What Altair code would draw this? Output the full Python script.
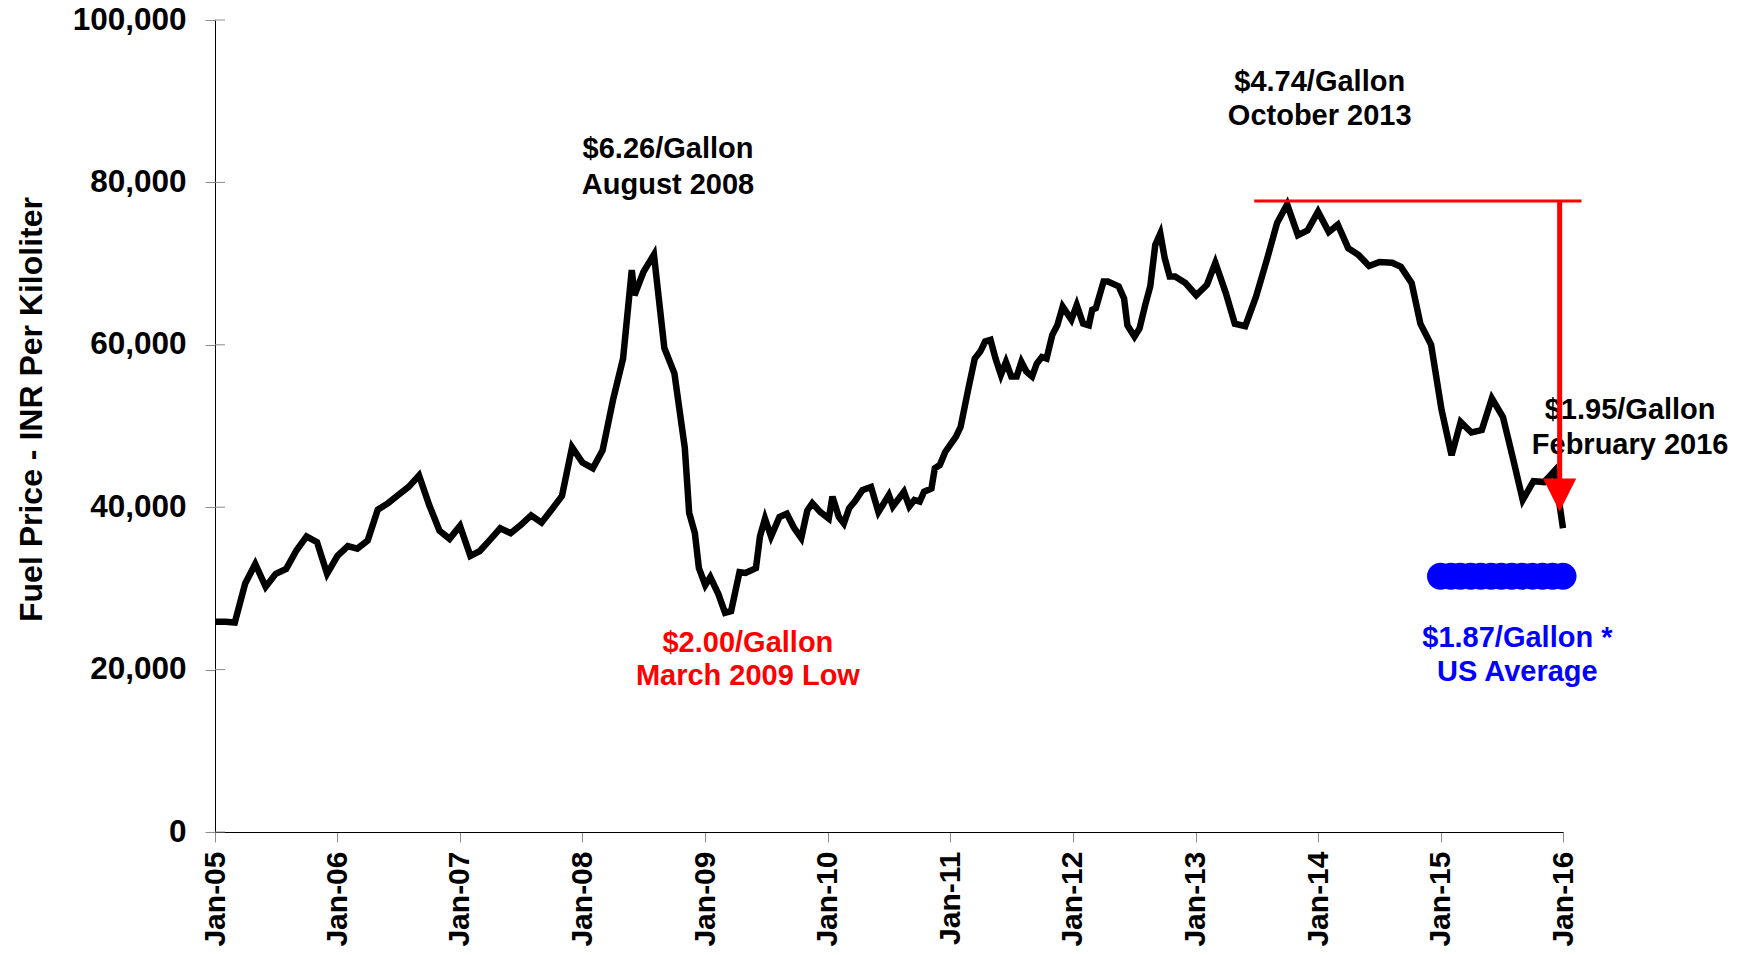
import altair as alt
import pandas as pd

# ---- main series: fuel price (INR per kiloliter) ----
dates = [
    "2005-01-01", "2005-02-01", "2005-03-01", "2005-04-01", "2005-05-01", "2005-06-01",
    "2005-07-01", "2005-08-01", "2005-09-01", "2005-10-01", "2005-11-01", "2005-12-01",
    "2006-01-01", "2006-02-01", "2006-03-01", "2006-04-01", "2006-05-01", "2006-06-01",
    "2006-07-01", "2006-08-01", "2006-09-01", "2006-10-01", "2006-11-01", "2006-12-01",
    "2007-01-01", "2007-02-01", "2007-03-01", "2007-04-01", "2007-05-01", "2007-06-01",
    "2007-07-01", "2007-08-01", "2007-09-01", "2007-10-01", "2007-11-01", "2007-12-01",
    "2008-01-01", "2008-02-01", "2008-03-01", "2008-04-01", "2008-05-01", "2008-05-27",
    "2008-06-04", "2008-07-01", "2008-08-01", "2008-09-01", "2008-10-01", "2008-11-01",
    "2008-11-14", "2008-12-01", "2008-12-13", "2009-01-01", "2009-01-16", "2009-02-09",
    "2009-03-01", "2009-03-19", "2009-04-13", "2009-05-01", "2009-06-01", "2009-06-13",
    "2009-06-28", "2009-07-16", "2009-08-10", "2009-09-01", "2009-09-22", "2009-10-14",
    "2009-11-01", "2009-11-16", "2009-12-10", "2010-01-04", "2010-01-15", "2010-02-03",
    "2010-02-18", "2010-03-06", "2010-03-24", "2010-04-14", "2010-05-10", "2010-06-01",
    "2010-07-02", "2010-07-14", "2010-08-16", "2010-09-01", "2010-09-16", "2010-10-02",
    "2010-10-15", "2010-11-06", "2010-11-16", "2010-12-01", "2010-12-17", "2011-01-18",
    "2011-02-01", "2011-02-24", "2011-03-15", "2011-04-01", "2011-04-15", "2011-05-01",
    "2011-05-16", "2011-06-01", "2011-06-16", "2011-07-02", "2011-07-18", "2011-08-01",
    "2011-08-16", "2011-09-02", "2011-09-16", "2011-10-01", "2011-10-15", "2011-11-01",
    "2011-11-16", "2011-12-02", "2011-12-28", "2012-01-13", "2012-02-01", "2012-02-18",
    "2012-02-28", "2012-03-10", "2012-04-02", "2012-04-15", "2012-05-17", "2012-06-02",
    "2012-06-12", "2012-07-03", "2012-07-18", "2012-08-04", "2012-08-19", "2012-09-03",
    "2012-09-18", "2012-10-01", "2012-10-16", "2012-11-01", "2012-12-02", "2013-01-03",
    "2013-02-04", "2013-03-01", "2013-04-01", "2013-04-28", "2013-05-29", "2013-06-30",
    "2013-08-01", "2013-09-01", "2013-10-01", "2013-11-02", "2013-12-01", "2014-01-01",
    "2014-02-02", "2014-03-01", "2014-04-01", "2014-05-01", "2014-06-02", "2014-07-03",
    "2014-08-10", "2014-09-05", "2014-10-07", "2014-11-02", "2014-12-04", "2015-01-04",
    "2015-02-03", "2015-03-02", "2015-04-03", "2015-05-04", "2015-06-03", "2015-07-06",
    "2015-08-05", "2015-09-03", "2015-10-05", "2015-11-06", "2015-12-07", "2016-01-01",
]
prices = [
    25900, 25900, 25800, 30600, 33000, 30200,
    31800, 32400, 34700, 36400, 35700, 31800,
    34000, 35200, 34900, 35900, 39700, 40500,
    41500, 42500, 43900, 40300, 37100, 36100,
    37700, 34000, 34600, 36000, 37400, 36800,
    37800, 39000, 38100, 39700, 41400, 47400,
    45500, 44800, 47000, 53200, 58300, 69200,
    66100, 69000, 71100, 59600, 56500, 47300,
    39300, 36800, 32500, 30400, 31400, 29300,
    27000, 27200, 32000, 31900, 32500, 36400,
    38600, 36400, 38800, 39200, 37500, 36200,
    39600, 40500, 39400, 38600, 41300, 38800,
    38000, 39900, 40800, 42100, 42500, 39400,
    41500, 40100, 41900, 40100, 40900, 40700,
    41900, 42300, 44800, 45200, 46800, 48700,
    49900, 54600, 58300, 59200, 60400, 60600,
    58300, 56300, 57900, 56100, 56100, 57900,
    56700, 56100, 57700, 58500, 58300, 61200,
    62400, 64700, 63100, 64900, 62600, 62400,
    64300, 64500, 67800, 67800, 67200, 65700,
    62400, 61000, 62000, 64900, 67200, 72300,
    73700, 70700, 68400, 68400, 67600, 66100,
    67400, 70100, 66400, 62600, 62300, 65900,
    70400, 75000, 77300, 73500, 74100, 76400,
    73900, 74800, 71900, 71100, 69700, 70200,
    70100, 69600, 67600, 62600, 60000, 52000,
    46400, 50500, 49200, 49500, 53400, 51100,
    46000, 40900, 43200, 43100, 44500, 37400,
]

# ---- US average marker (blue) ----
us_avg_dates = [
    "2015-01-01", "2015-02-01", "2015-03-01", "2015-04-01", "2015-05-01", "2015-06-01",
    "2015-07-01", "2015-08-01", "2015-09-01", "2015-10-01", "2015-11-01", "2015-12-01",
    "2016-01-01",
]
us_avg_value = 31500

# ---- red reference line and arrow ----
peak_line_start = "2013-06-25"
peak_line_end = "2016-02-25"
peak_level = 77700
arrow_date = "2015-12-22"
arrow_shaft_bottom = 43400
arrow_head_center = 41500

# ---- annotations ----
ann_dates = ["2008-09-12", "2008-09-12", "2014-01-06", "2014-01-06",
             "2009-05-08", "2009-05-08", "2016-07-19", "2016-07-19",
             "2015-08-18", "2015-08-18"]
ann_values = [83000, 78560, 91250, 87010, 22200, 18050, 50850, 46600, 22800, 18540]
ann_texts = ["$6.26/Gallon", "August 2008", "$4.74/Gallon", "October 2013",
             "$2.00/Gallon", "March 2009 Low", "$1.95/Gallon", "February 2016",
             "$1.87/Gallon *", "US Average"]
ann_colors = ["#000000", "#000000", "#000000", "#000000",
              "#FF0000", "#FF0000", "#000000", "#000000",
              "#0000FF", "#0000FF"]

y_ticks = [0, 20000, 40000, 60000, 80000, 100000]
year_ticks = [alt.DateTime(year=y, month=1, date=1, utc=True) for y in range(2005, 2017)]

FONT = "Liberation Sans, Arial, sans-serif"

x_scale = alt.Scale(type="utc", domain=[alt.DateTime(year=2005, month=1, date=1, utc=True),
                                        alt.DateTime(year=2016, month=1, date=1, utc=True)], nice=False)
y_scale = alt.Scale(domain=[0, 100000], nice=False, zero=True)

x_axis = alt.Axis(values=year_ticks, labelExpr="utcFormat(datum.value, '%b-%y')", labelAngle=270,
                  labelFont=FONT, labelFontSize=30, labelFontWeight="bold", labelColor="#000000",
                  labelPadding=9, tickSize=10, tickColor="#8c8c8c", tickWidth=1,
                  domainColor="#000000", domainWidth=1, grid=False, title=None, labelOverlap=False)
y_axis = alt.Axis(values=y_ticks, format=",d", labelFont=FONT, labelFontSize=31.5,
                  labelFontWeight="bold", labelColor="#000000", labelPadding=19,
                  tickSize=10, tickColor="#8c8c8c", tickWidth=1, domainColor="#000000",
                  domainWidth=1, grid=False, title="Fuel Price - INR  Per Kiloliter",
                  titleFont=FONT, titleFontSize=32, titleFontWeight="bold", titleColor="#000000",
                  titleAngle=270, titleAlign="center", titleBaseline="alphabetic",
                  titleX=-174, titleY=389)

def X(field="date"):
    return alt.X(f"{field}:T", scale=x_scale, axis=x_axis)

def Y(field="value"):
    return alt.Y(f"{field}:Q", scale=y_scale, axis=y_axis)

main_df = pd.DataFrame({"date": dates, "value": prices})
line = alt.Chart(main_df).mark_line(color="#000000", strokeWidth=6.5, strokeJoin="miter").encode(
    x=X(), y=Y())

tick_df = pd.DataFrame({"value": y_ticks})
inner_ticks = alt.Chart(tick_df).mark_rule(color="#8c8c8c", strokeWidth=1).encode(
    y=Y(), x=alt.value(0), x2=alt.value(10))

ann_df = pd.DataFrame({"date": ann_dates, "value": ann_values, "text": ann_texts, "color": ann_colors})
texts = alt.Chart(ann_df).mark_text(font=FONT, fontSize=29, fontWeight="bold",
                                    align="center", baseline="alphabetic").encode(
    x=X(), y=Y(), text="text:N", color=alt.Color("color:N", scale=None))

hline_df = pd.DataFrame({"date": [peak_line_start], "date2": [peak_line_end], "value": [peak_level]})
hline = alt.Chart(hline_df).mark_rule(color="#FF0000", strokeWidth=3).encode(
    x=X(), x2="date2:T", y=Y())

shaft_df = pd.DataFrame({"date": [arrow_date], "value": [peak_level], "value2": [arrow_shaft_bottom]})
shaft = alt.Chart(shaft_df).mark_rule(color="#FF0000", strokeWidth=5).encode(
    x=X(), y=Y(), y2="value2:Q")

head_df = pd.DataFrame({"date": [arrow_date], "value": [arrow_head_center]})
head = alt.Chart(head_df).mark_point(shape="M-1,-1L1,-1L0,1Z", size=1100, filled=True,
                                     color="#FF0000", opacity=1, strokeWidth=0).encode(
    x=X(), y=Y())

us_df = pd.DataFrame({"date": us_avg_dates, "value": [us_avg_value] * len(us_avg_dates)})
us = alt.Chart(us_df).mark_circle(size=729, color="#0000FF", opacity=1).encode(x=X(), y=Y())

chart = alt.layer(line, inner_ticks, texts, hline, shaft, head, us).properties(
    width=1348, height=812,
    autosize=alt.AutoSizeParams(type="none"),
    padding={"left": 207, "top": 12, "right": 183, "bottom": 116},
    background="#ffffff",
).configure_view(stroke=None)

chart.save("out.html", embed_options={"renderer": "svg", "actions": False})
